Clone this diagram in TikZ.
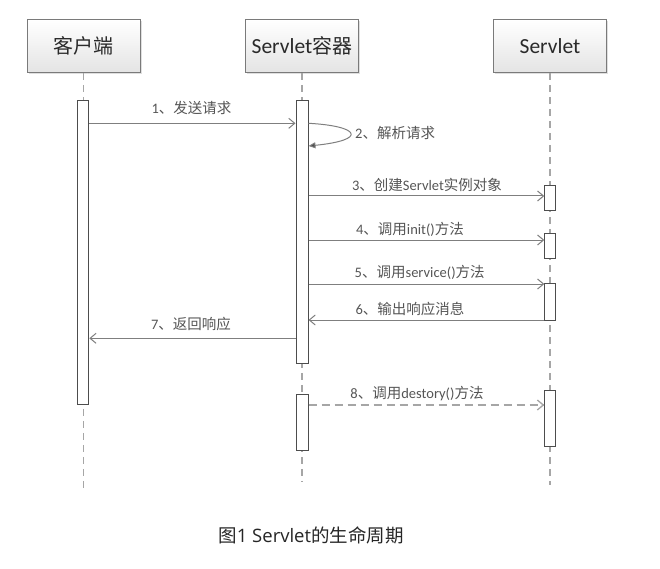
\documentclass[tikz,border=0pt]{standalone}
\usepackage{fontspec}
\setmainfont{Carlito}
\newfontfamily\cjk{Noto Sans CJK SC}
\newfontfamily\capsans{Open Sans}
\usetikzlibrary{arrows.meta,shadows}
\definecolor{linegray}{HTML}{7F7F7F}
\definecolor{lifegray}{HTML}{A6A6A6}
\definecolor{boxborder}{HTML}{7A7A7A}
\definecolor{boxfill}{HTML}{E4E4E4}
\definecolor{actborder}{HTML}{4D4D4D}
\definecolor{lbltext}{HTML}{555555}
\definecolor{headtext}{HTML}{2A2A2A}
\definecolor{captext}{HTML}{262626}
\tikzset{
  head/.style={draw=boxborder, line width=0.9pt, top color=white, bottom color=boxfill,
    minimum width=113pt, minimum height=53pt, inner sep=0pt,
    font=\fontsize{21.5}{24}\selectfont, text=headtext,
    drop shadow={shadow xshift=1.5pt, shadow yshift=-1.5pt, opacity=0.25}},
  actbox/.style={draw=actborder, fill=white, line width=1pt, minimum width=11pt, inner sep=0pt},
  life/.style={draw=lifegray, line width=1.3pt, dash pattern=on 7pt off 5pt},
  msg/.style={draw=linegray, line width=1pt, -{Straight Barb[length=6pt,width=10pt]}},
  dmsg/.style={draw=lifegray, line width=1.3pt, dash pattern=on 8pt off 5pt, -{Straight Barb[length=6pt,width=10pt]}},
  selfmsg/.style={draw=linegray, line width=1pt, -{Triangle[length=7pt,width=6pt,fill=actborder]}},
  lbl/.style={font=\fontsize{14.5}{16}\selectfont, text=lbltext, inner sep=0pt},
}
\begin{document}
\begin{tikzpicture}[x=1pt,y=-1pt]
\useasboundingbox (0,0) rectangle (660,569);
% header boxes
\node[head] (h1) at (83.5,46) {{\cjk\fontsize{20}{24}\selectfont 客户端}};
\node[head] (h2) at (302,46) {Servlet{\cjk\fontsize{20}{24}\selectfont 容器}};
\node[head] (h3) at (550,46) {Servlet};
% lifeline ends
\coordinate (e1) at (83.5,488);
\coordinate (e2) at (302,482);
\coordinate (e3) at (550,485);
\draw[life] (h1.south) -- (e1);
\draw[life] (h2.south) -- (e2);
\draw[life] (h3.south) -- (e3);
% activations
\node[actbox, minimum height=303pt] (a1) at (83.3,252.5) {};
\node[actbox, minimum width=12pt, minimum height=262pt] (b1) at (302,232) {};
\node[actbox, minimum width=12pt, minimum height=56pt] (b2) at (302,422) {};
\node[actbox, minimum height=25pt] (s1) at (550.3,198) {};
\node[actbox, minimum height=25pt] (s2) at (550.3,245.8) {};
\node[actbox, minimum height=37pt] (s3) at (550.3,301.5) {};
\node[actbox, minimum height=55.5pt] (s4) at (550.3,418.7) {};
% message rows
\coordinate (m1) at (0,123.3);
\coordinate (m2a) at (0,123.3);
\coordinate (m2b) at (0,146);
\coordinate (m3) at (0,196);
\coordinate (m4) at (0,240);
\coordinate (m5) at (0,284);
\coordinate (m6) at (0,320);
\coordinate (m7) at (0,338.3);
\coordinate (m8) at (0,405);
% messages
\draw[msg] (a1.east |- m1) -- (b1.west |- m1);
\draw[selfmsg] (b1.east |- m2a) .. controls (360,126) and (368,140) .. (b1.east |- m2b);
\draw[msg] (b1.east |- m3) -- (s1.west |- m3);
\draw[msg] (b1.east |- m4) -- (s2.west |- m4);
\draw[msg] (b1.east |- m5) -- (s3.west |- m5);
\draw[msg] (s3.west |- m6) -- (b1.east |- m6);
\draw[msg] (b1.west |- m7) -- (a1.east |- m7);
\draw[dmsg] (b2.east |- m8) -- (s4.west |- m8);
% labels
\node[lbl] (l1) at (191.5,108) {1{\cjk 、发送请求}};
\node[lbl, anchor=west] (l2) at (355,133) {2{\cjk 、解析请求}};
\node[lbl] (l3) at (427,185) {3{\cjk 、创建}Servlet{\cjk 实例对象}};
\node[lbl] (l4) at (410,229.5) {4{\cjk 、调用}init(){\cjk 方法}};
\node[lbl] (l5) at (419.7,272.7) {5{\cjk 、调用}service(){\cjk 方法}};
\node[lbl] (l6) at (410,309.3) {6{\cjk 、输出响应消息}};
\node[lbl] (l7) at (191,324) {7{\cjk 、返回响应}};
\node[lbl] (l8) at (417,394) {8{\cjk 、调用}destory(){\cjk 方法}};
% caption
\node[font=\fontsize{18.5}{22}\selectfont, text=captext, inner sep=0pt] (cap) at (311,535) {{\cjk 图}{\capsans 1 Servlet}{\cjk 的生命周期}};
\end{tikzpicture}
\end{document}
